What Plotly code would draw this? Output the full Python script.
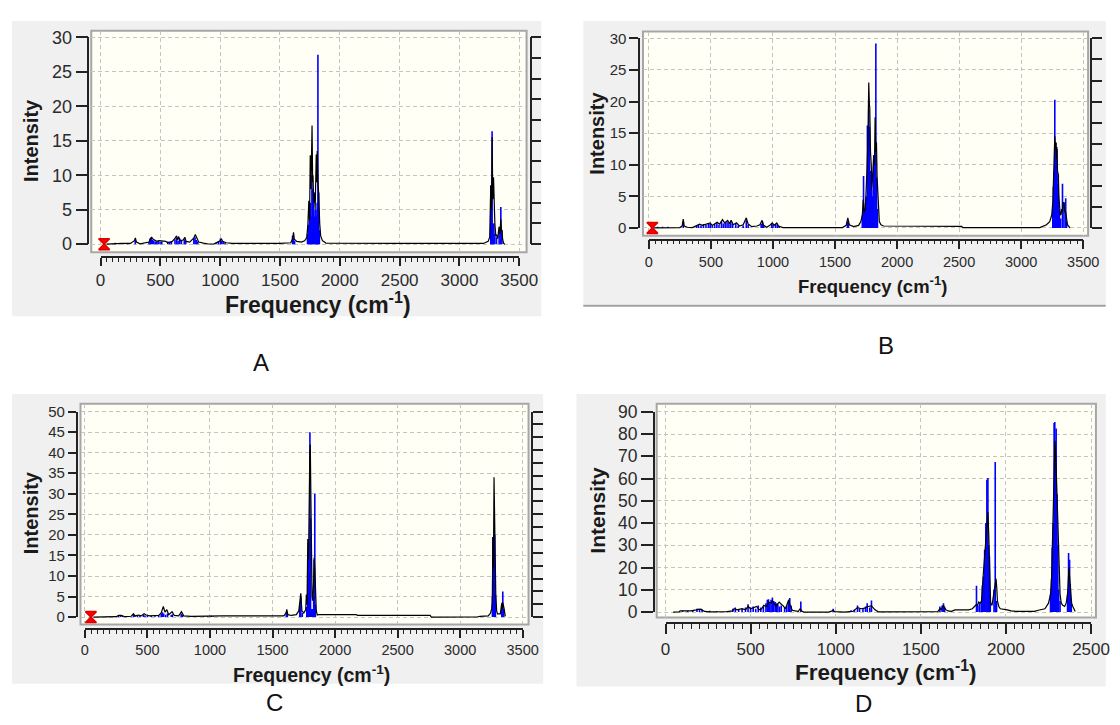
import numpy as np
import plotly.graph_objects as go

W, H = 1120, 725          # browser window
OFF = 8                   # default body margin of the page
FW, FH = W - 2 * OFF, H - 2 * OFF

# ---------------- DATA ----------------
# Panel A
A_STICK_F = [122,195,225,290,405,415,425,435,445,458,470,482,497,512,562,578,592,622,636,648,662,676,700,712,780,790,800,812,965,985,1002,1012,1025,1040,1605,1612,1622,1730,1738,1746,1753,1760,1767,1773,1779,1786,1793,1800,1806,1811,1817,1823,1829,3262,3268,3273,3280,3288,3296,3310,3332,3346,3355]
A_STICK_I = [0.2,0.15,0.15,0.6,0.3,0.8,0.9,0.6,0.5,0.4,0.3,0.5,0.3,0.4,0.4,0.3,0.3,0.7,0.9,0.5,0.8,0.6,0.7,0.5,0.8,1.0,0.6,0.4,0.2,0.4,0.8,0.5,0.3,0.2,1.2,0.9,0.5,1.5,2.8,4.7,6.0,4.0,10.0,8.0,7.5,4.0,5.0,5.0,4.0,6.0,27.5,7.5,2.0,8.5,8.0,16.4,3.0,3.0,1.5,1.0,2.0,5.4,2.0]
A_CURVE_F = [50,100,130,180,250,283,291,300,330,380,405,420,428,440,455,470,490,520,545,560,580,600,625,635,645,652,665,690,705,715,745,780,792,805,820,860,900,950,975,1000,1010,1020,1050,1100,1500,1590,1605,1613,1620,1640,1680,1705,1715,1724,1733,1741,1747,1753,1759,1768,1773,1776,1782,1788,1794,1803,1807,1811,1817,1823,1832,1840,1855,1884,2500,3200,3240,3253,3262,3268,3273,3279,3285,3291,3296,3304,3311,3320,3331,3338,3346,3351,3355,3362,3370,3380]
A_CURVE_I = [0.0,0.05,0.15,0.1,0.1,0.5,0.9,0.3,0.05,0.15,0.3,0.9,1.0,0.7,0.5,0.4,0.5,0.5,0.4,0.2,0.3,0.4,0.9,1.2,0.6,1.1,0.5,0.6,1.0,0.4,0.3,0.9,1.4,0.8,0.3,0.15,0.02,0.05,0.3,0.5,0.8,0.4,0.2,0.1,0.1,0.2,0.8,1.7,0.7,0.4,0.3,0.5,0.7,1.0,2.8,6.3,3.5,12.9,8.0,17.2,9.0,10.0,6.0,7.5,5.0,13.0,9.0,13.5,9.0,7.5,3.0,1.2,0.5,0.15,0.1,0.1,0.4,1.0,8.5,5.0,15.5,6.5,9.7,4.0,3.0,1.2,1.3,0.8,2.5,1.5,3.6,2.0,2.0,0.6,0.1,0.0]
A_MARK_F = [30]

# Panel B
B_STICK_F = [70,110,155,277,385,400,420,440,460,480,494,510,530,548,565,585,600,615,630,645,660,675,700,720,760,785,800,905,915,925,990,1000,1020,1035,1050,1600,1608,1720,1730,1738,1746,1753,1761,1766,1772,1778,1784,1792,1800,1807,1812,1821,1829,1835,1842,3255,3260,3266,3271,3276,3280,3284,3288,3294,3299,3308,3318,3333,3345,3359,3366]
B_STICK_I = [0.2,0.2,0.2,1.0,0.3,0.5,0.4,0.6,0.5,0.7,0.6,0.4,0.6,0.8,0.5,1.0,0.7,0.9,1.0,0.8,1.0,0.6,0.7,0.4,0.4,1.2,0.5,0.6,1.0,0.4,0.7,0.5,0.6,0.7,0.3,1.0,0.8,2.0,8.2,3.0,4.0,5.0,16.2,10.0,18.8,16.0,9.0,7.5,5.0,6.0,11.5,11.5,29.2,8.0,3.0,3.0,6.5,9.0,20.3,11.0,13.5,9.0,12.5,7.0,8.5,3.0,1.5,7.0,4.0,4.7,1.0]
B_CURVE_F = [40,250,268,277,285,310,350,380,409,430,460,494,510,530,550,570,593,610,635,650,663,680,706,730,760,785,800,830,870,895,912,925,950,975,994,1010,1030,1045,1080,1560,1590,1603,1615,1650,1690,1708,1720,1727,1735,1744,1752,1758,1765,1772,1777,1780,1786,1792,1797,1801,1807,1812,1818,1823,1829,1834,1839,1843,1850,1857,1870,1891,2520,2530,3150,3204,3230,3246,3255,3260,3265,3271,3276,3280,3284,3288,3293,3299,3304,3308,3315,3322,3327,3333,3338,3345,3352,3359,3366,3373,3393]
B_CURVE_I = [0.0,0.05,0.3,1.4,0.3,0.1,0.05,0.3,0.6,0.4,0.6,0.8,0.4,0.6,0.9,0.6,1.3,0.8,1.2,0.7,1.2,0.5,0.8,0.3,0.5,1.6,0.6,0.2,0.3,0.5,1.2,0.4,0.1,0.4,0.8,0.4,0.8,0.3,0.05,0.05,0.4,1.6,0.5,0.2,0.4,1.0,2.0,4.5,2.5,3.0,6.0,9.3,14.0,23.0,19.5,19.0,12.0,10.0,6.0,7.5,9.0,11.5,10.0,17.5,12.0,13.5,8.0,6.0,2.5,1.0,0.5,0.3,0.25,0.05,0.05,0.5,1.0,2.0,4.0,6.5,10.0,14.5,12.5,13.5,11.0,12.8,9.0,8.5,5.0,3.0,2.0,2.2,3.0,2.5,4.0,4.0,2.5,2.5,1.5,0.5,0.0]
B_MARK_F = [28]

# Panel C
C_STICK_F = [175,200,268,285,300,388,400,420,440,468,480,500,530,560,590,610,620,630,645,660,690,700,770,780,850,880,910,950,980,1010,1025,1610,1618,1718,1726,1738,1774,1782,1788,1793,1799,1804,1810,1822,1829,1833,1838,1842,3258,3262,3266,3271,3276,3282,3333,3341,3348]
C_STICK_I = [0.15,0.1,0.4,0.4,0.3,0.5,0.4,0.3,0.5,0.6,0.4,0.3,0.3,0.2,0.4,0.8,1.2,0.9,0.6,0.9,0.5,0.7,0.8,0.6,0.2,0.2,0.2,0.2,0.2,0.3,0.2,1.2,0.8,3.5,5.0,1.0,2.5,11.0,18.0,11.0,45.0,24.0,2.0,2.0,5.0,14.0,30.0,3.0,5.0,19.5,19.0,5.0,20.0,5.5,3.0,6.2,2.0]
C_CURVE_F = [67,170,250,270,290,320,370,389,400,430,450,473,490,520,560,590,610,627,640,655,670,697,715,750,772,790,850,1100,1590,1608,1614,1622,1650,1690,1710,1718,1726,1735,1750,1765,1771,1776,1782,1788,1793,1798,1802,1807,1812,1816,1820,1824,1829,1833,1838,1844,1850,1858,1870,2170,2180,2760,2770,3140,3160,3225,3243,3252,3257,3262,3266,3271,3275,3279,3283,3285,3292,3299,3321,3328,3333,3338,3341,3350,3356,3361]
C_CURVE_I = [0.0,0.05,0.1,0.4,0.4,0.1,0.2,0.8,0.3,0.5,0.3,0.8,0.5,0.3,0.3,0.4,1.0,2.6,1.2,1.8,0.6,1.3,0.4,0.3,1.3,0.3,0.2,0.3,0.3,1.0,1.9,0.6,0.4,0.6,1.5,4.5,5.8,1.5,1.0,1.8,5.5,3.0,19.0,14.0,36.0,40.0,42.0,24.0,10.0,5.0,4.0,5.0,9.0,14.5,12.0,4.0,1.5,0.5,0.6,0.6,0.4,0.4,0.0,0.05,0.2,0.3,1.0,2.0,3.5,19.5,12.0,34.0,25.0,21.0,8.0,5.5,1.5,0.8,0.8,2.0,3.5,2.0,3.5,2.3,0.6,0.2]
C_MARK_F = [48]

# Panel D
D_STICK_F = [100,130,160,185,200,215,260,300,365,395,410,430,450,470,485,500,515,530,545,560,575,590,598,605,612,620,628,636,645,652,660,670,680,700,712,722,730,738,795,985,1090,1110,1128,1140,1160,1175,1185,1200,1210,1612,1625,1633,1640,1827,1835,1845,1855,1862,1868,1875,1882,1888,1894,1898,1903,1908,1930,1937,1945,2262,2268,2272,2278,2283,2287,2291,2295,2300,2305,2310,2318,2362,2368,2374,2378,2384]
D_STICK_I = [0.6,0.6,0.8,1.5,1.4,1.2,0.6,0.4,0.5,1.5,2.0,1.0,1.5,2.0,3.5,2.0,2.5,1.5,3.0,2.0,2.5,4.0,5.5,5.8,4.0,5.5,6.5,5.0,4.5,4.0,3.5,2.5,3.0,2.0,3.0,4.5,6.3,3.0,4.7,1.5,0.8,1.0,3.0,1.5,1.5,2.5,4.0,2.0,5.2,2.5,3.0,4.0,2.0,11.8,3.0,4.0,5.0,12.0,16.0,28.0,40.0,59.5,60.3,30.0,25.0,4.0,10.0,67.5,5.0,8.0,15.0,29.0,40.0,85.0,85.5,70.0,82.5,53.0,30.0,10.0,5.0,8.0,26.5,23.5,12.5,4.0]
D_CURVE_F = [45,80,86,150,180,188,208,220,229,260,300,360,395,403,420,450,470,485,500,520,536,550,565,577,592,607,618,628,640,650,660,668,680,689,705,715,724,732,745,761,780,791,800,812,960,975,985,995,1050,1100,1128,1150,1170,1190,1210,1231,1250,1600,1612,1620,1633,1645,1660,1680,1701,1780,1803,1815,1827,1833,1840,1848,1856,1866,1872,1878,1882,1886,1894,1899,1903,1907,1910,1918,1925,1930,1936,1942,1946,1950,1958,1967,2008,2030,2060,2089,2168,2190,2229,2250,2262,2268,2272,2276,2281,2285,2288,2291,2294,2297,2300,2304,2308,2313,2318,2325,2334,2345,2354,2362,2366,2370,2374,2378,2382,2386,2393,2399,2407]
D_CURVE_I = [0.0,0.1,0.5,0.5,1.0,1.2,1.3,0.8,0.3,0.1,0.1,0.2,0.5,1.5,1.0,1.5,1.0,2.5,1.5,2.0,2.5,1.0,1.5,3.0,2.5,4.5,4.0,5.0,3.5,2.5,3.8,4.5,3.5,3.0,1.5,3.5,5.5,3.0,0.8,0.5,0.3,1.5,0.5,0.0,0.0,0.4,0.8,0.2,0.0,0.3,2.0,1.5,1.8,2.5,2.8,1.0,0.1,0.2,1.5,1.0,3.0,1.2,0.5,0.3,1.0,1.0,1.5,2.5,3.5,3.0,4.5,4.0,4.5,16.0,22.0,28.0,32.0,40.0,45.0,35.0,25.0,12.0,4.0,3.0,6.0,10.0,12.0,15.0,11.0,5.0,2.5,1.5,1.0,0.5,0.3,0.3,0.3,0.8,1.5,4.0,8.0,15.0,29.0,45.0,65.0,74.0,77.0,72.0,68.0,60.0,53.0,40.0,30.0,17.0,8.0,4.0,3.0,2.5,4.0,8.0,14.0,20.0,16.0,12.5,8.0,4.0,2.5,1.5,0.3]
D_MARK_F = []

X_MAX = {'A': 3500, 'B': 3500, 'C': 3500, 'D': 2500}
Y_MAX = {'A': 30, 'B': 30, 'C': 50, 'D': 90}
Y_DTICK = {'A': 5, 'B': 5, 'C': 5, 'D': 10}
RIGHT_DIV = {'A': 10, 'B': 9, 'C': 16, 'D': 0}
X_TITLE = 'Frequency (cm<sup>-1</sup>)'
Y_TITLE = 'Intensity'

for a, b in [(A_STICK_F, A_STICK_I), (A_CURVE_F, A_CURVE_I), (B_STICK_F, B_STICK_I), (B_CURVE_F, B_CURVE_I),
             (C_STICK_F, C_STICK_I), (C_CURVE_F, C_CURVE_I), (D_STICK_F, D_STICK_I), (D_CURVE_F, D_CURVE_I)]:
    assert len(a) == len(b), (len(a), len(b))

# ---------------- LAYOUT GEOMETRY (window pixels) ----------------
GEOM = {
    'A': dict(bg=(7, 548, 11, 315), plot=(88, 533, 21, 249), xpx=(97.5, 525.5), ypx=(240.7, 28),
              yline=85, xline=254, rline=537, ylen=12, xlen=8, mlen=4, tfs=17, ytfs=18,
              ititle=(27, 134, 20), ftitle=(320, 301, 23), label=(262, 362)),
    'B': dict(bg=(591, 1125, 11, 303), plot=(652, 1107, 22, 232), xpx=(658, 1102), ypx=(224, 29),
              yline=648, xline=236, rline=1110, ylen=9, xlen=9, mlen=4, tfs=14.5, ytfs=15,
              ititle=(605, 127, 20), ftitle=(887, 283, 18.5), label=(900, 345)),
    'C': dict(bg=(7, 550, 395, 693), plot=(77, 535, 405, 632), xpx=(81.5, 529), ypx=(624.5, 413),
              yline=73, xline=637, rline=539, ylen=8, xlen=8, mlen=4, tfs=14.5, ytfs=15,
              ititle=(26, 517, 20), ftitle=(313, 683, 19.5), label=(275, 712)),
    'D': dict(bg=(584, 1125, 395, 696), plot=(666, 1115, 405, 625), xpx=(675, 1110), ypx=(619.3, 413.3),
              yline=663, xline=631, rline=None, ylen=12, xlen=10, mlen=5, tfs=17, ytfs=17.5,
              ititle=(606, 515, 21), ftitle=(900, 680, 22.5), label=(877, 713)),
}
DATA = {
    'A': (A_STICK_F, A_STICK_I, A_CURVE_F, A_CURVE_I, A_MARK_F),
    'B': (B_STICK_F, B_STICK_I, B_CURVE_F, B_CURVE_I, B_MARK_F),
    'C': (C_STICK_F, C_STICK_I, C_CURVE_F, C_CURVE_I, C_MARK_F),
    'D': (D_STICK_F, D_STICK_I, D_CURVE_F, D_CURVE_I, D_MARK_F),
}

FONT = 'Liberation Sans, Arial, sans-serif'
TXT = '#2b2b2b'
AX = '#222222'


def fx(p):
    return (p - OFF) / FW


def fy(p):
    return 1 - (p - OFF) / FH


def clampx(p):
    return min(max(p, OFF), W - OFF)


def clampy(p):
    return min(max(p, OFF), H - OFF)


def aname(letter, n):
    return f'{letter}axis' if n == 1 else f'{letter}axis{n}'


def aref(letter, n):
    return letter if n == 1 else f'{letter}{n}'


fig = go.Figure()
layout = dict(width=FW, height=FH, margin=dict(l=0, r=0, t=0, b=0), paper_bgcolor='white',
              plot_bgcolor='rgba(0,0,0,0)', showlegend=False, shapes=[], annotations=[])

for k, key in enumerate(['A', 'B', 'C', 'D'], start=1):
    g = GEOM[key]
    sf, si, cf, ci, mk = DATA[key]
    xmax, ymax = X_MAX[key], Y_MAX[key]

    # background panels
    bx0, bx1, by0, by1 = g['bg']
    layout['shapes'].append(dict(type='rect', xref='paper', yref='paper', x0=fx(bx0), x1=fx(bx1),
                                 y0=fy(by1), y1=fy(by0), fillcolor='#f0f0f0', line=dict(width=0), layer='below'))
    px0, px1, py0, py1 = g['plot']
    layout['shapes'].append(dict(type='rect', xref='paper', yref='paper', x0=fx(px0), x1=fx(px1),
                                 y0=fy(py1), y1=fy(py0), fillcolor='#fffff6',
                                 line=dict(color='#a6a6a6', width=2), layer='below'))
    dx0, dx1, dy0, dy1 = clampx(px0), clampx(px1 - 1), clampy(py0), clampy(py1)

    # scale mapping
    xa, xb = g['xpx']
    ya, yb = g['ypx']
    sx = (xb - xa) / xmax
    sy = (ya - yb) / ymax
    xr = [(dx0 - xa) / sx, (dx1 - xa) / sx]
    yr = [(ya - dy1) / sy, (ya - dy0) / sy]

    grid = dict(showgrid=True, gridcolor='#c4c4c4', gridwidth=1, griddash='4px,3px',
                showticklabels=False, ticks='', showline=False, zeroline=False, fixedrange=True)
    layout[aname('x', k)] = dict(domain=[fx(dx0), fx(dx1)], range=xr, anchor=aref('y', k),
                                 tick0=0, dtick=500, **grid)
    layout[aname('y', k)] = dict(domain=[fy(dy1), fy(dy0)], range=yr, anchor=aref('x', k),
                                 tick0=0, dtick=Y_DTICK[key], **grid)

    # visible tick axes
    kt = k + 4
    layout[aname('x', kt)] = dict(domain=[fx(xa), fx(xb)], range=[0, xmax], anchor='free', position=fy(g['xline']),
                                  tick0=0, dtick=500, ticks='outside', ticklen=g['xlen'], tickwidth=1.5,
                                  tickcolor=AX, showline=True, linecolor=AX, linewidth=1.5, showgrid=False,
                                  zeroline=False, fixedrange=True,
                                  minor=dict(dtick=50, tick0=0, ticks='outside', ticklen=g['mlen'],
                                             tickwidth=1, tickcolor=AX, showgrid=False),
                                  tickfont=dict(family=FONT, size=g['tfs'], color=TXT))
    layout[aname('y', kt)] = dict(domain=[fy(ya), fy(yb)], range=[0, ymax], anchor='free', position=fx(g['yline']),
                                  tick0=0, dtick=Y_DTICK[key], ticks='outside', ticklen=g['ylen'], tickwidth=1.5,
                                  tickcolor=AX, showline=True, linecolor=AX, linewidth=1.5, showgrid=False,
                                  zeroline=False, fixedrange=True,
                                  tickfont=dict(family=FONT, size=g['ytfs'], color=TXT))
    fig.add_trace(go.Scatter(x=[], y=[], xaxis=aref('x', kt), yaxis=aref('y', kt), showlegend=False))

    if RIGHT_DIV[key]:
        kr = k + 8
        layout[aname('y', kr)] = dict(overlaying=aref('y', kt), side='right', anchor='free',
                                      position=min(fx(g['rline']), 1.0),
                                      range=[0, ymax], tickmode='array',
                                      tickvals=list(np.linspace(0, ymax, RIGHT_DIV[key] + 1)),
                                      ticks='outside', ticklen=10, tickwidth=1.5, tickcolor=AX,
                                      showticklabels=False, showline=True, linecolor=AX, linewidth=1.5,
                                      showgrid=False, zeroline=False, fixedrange=True)
        fig.add_trace(go.Scatter(x=[], y=[], xaxis=aref('x', kt), yaxis=aref('y', kr), showlegend=False))

    # sticks
    stx, sty = [], []
    for f, v in zip(sf, si):
        stx += [f, f, None]
        sty += [0, v, None]
    fig.add_trace(go.Scatter(x=stx, y=sty, mode='lines', line=dict(color='#0000ff', width=1.6),
                             xaxis=aref('x', k), yaxis=aref('y', k), hoverinfo='skip'))
    # broadened curve
    fig.add_trace(go.Scatter(x=cf, y=ci, mode='lines', line=dict(color='#000000', width=1.2),
                             xaxis=aref('x', k), yaxis=aref('y', k), hoverinfo='skip'))
    if mk:
        fig.add_trace(go.Scatter(x=mk, y=[0] * len(mk), mode='markers',
                                 marker=dict(symbol='hourglass', size=11, color='#ff0000',
                                             line=dict(color='#dd0000', width=1.5)),
                                 xaxis=aref('x', k), yaxis=aref('y', k), hoverinfo='skip'))

    # titles
    ix, iy, isz = g['ititle']
    layout['annotations'].append(dict(text=f'<b>{Y_TITLE}</b>', x=fx(ix), y=fy(iy), xref='paper', yref='paper',
                                      textangle=-90, showarrow=False, xanchor='center', yanchor='middle',
                                      font=dict(family=FONT, size=isz, color='#1a1a1a')))
    tx, ty, tsz = g['ftitle']
    layout['annotations'].append(dict(text=f'<b>{X_TITLE}</b>', x=fx(tx), y=fy(ty), xref='paper', yref='paper',
                                      showarrow=False, xanchor='center', yanchor='middle',
                                      font=dict(family=FONT, size=tsz, color='#1a1a1a')))
    lx, ly = g['label']
    layout['annotations'].append(dict(text=key, x=fx(lx), y=fy(ly), xref='paper', yref='paper',
                                      showarrow=False, xanchor='center', yanchor='middle',
                                      font=dict(family=FONT, size=24, color='#111111')))

# bottom border line of panel B
layout['shapes'].append(dict(type='line', xref='paper', yref='paper', x0=fx(591), x1=fx(1125),
                             y0=fy(304), y1=fy(304), line=dict(color='#a0a0a0', width=2), layer='below'))

fig.update_layout(**layout)
fig.write_html('out.html', config={'displayModeBar': False})
